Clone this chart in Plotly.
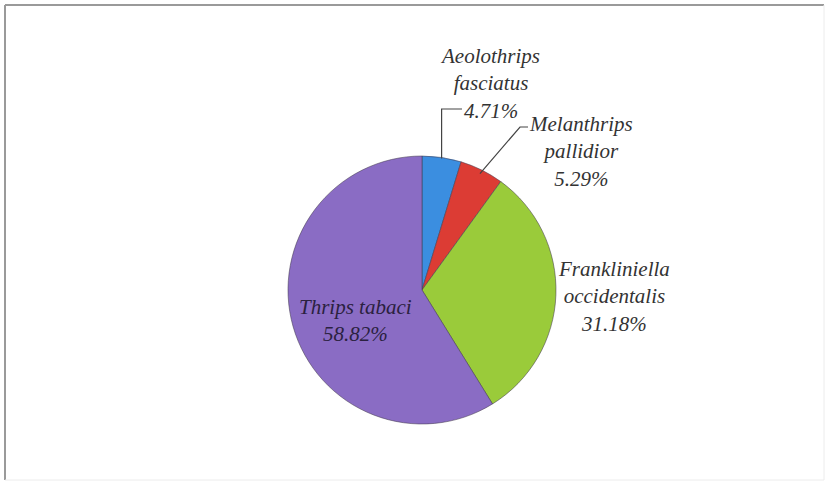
import math
import plotly.graph_objects as go

# Thrips species composition (%)
species = ["Aeolothrips<br>fasciatus", "Melanthrips<br>pallidior",
           "Frankliniella<br>occidentalis", "Thrips tabaci"]
shares = [4.71, 5.29, 31.18, 58.82]
colors = ["#3b8ee0", "#dc3c34", "#9acb3a", "#8a6cc4"]

W, H = 826, 482
CX, CY, R = 422, 290, 134  # pie centre and radius in pixels


def px(x, y):
    """pixel position -> paper coordinates"""
    return x / W, (H - y) / H


fig = go.Figure()
x0, _ = px(CX - R, 0)
x1, _ = px(CX + R, 0)
_, y0 = px(0, CY + R)
_, y1 = px(0, CY - R)
fig.add_trace(go.Pie(
    labels=species, values=shares, sort=False, direction="clockwise",
    rotation=0, textinfo="none", hoverinfo="label+percent",
    marker=dict(colors=colors, line=dict(color="rgba(70,60,80,0.55)", width=1)),
    domain=dict(x=[x0, x1], y=[y0, y1]), showlegend=False,
))


def mid_point(i, r=R):
    start = sum(shares[:i])
    ang = math.radians((start + shares[i] / 2) / sum(shares) * 360)
    return CX + r * math.sin(ang), CY - r * math.cos(ang)


SERIF = "Liberation Serif"
text_for = [f"{s}<br>{v:.2f}%" for s, v in zip(species, shares)]

# label anchor positions (pixels)
label_pos = [(490, 83), (581, 151), (614, 296), (355, 320)]
for i, (lx, ly) in enumerate(label_pos):
    ax, ay = px(lx, ly)
    fig.add_annotation(x=ax, y=ay, xref="paper", yref="paper", text=text_for[i],
                       showarrow=False, align="center", xanchor="center",
                       yanchor="middle",
                       font=dict(family=SERIF, size=21, style="italic",
                                 color="#2b2140" if i == 3 else "#333333"))

# leader lines for the two narrow slices
bx, by = mid_point(0, R - 1)
red_x, red_y = mid_point(1, R - 4)
leaders = [
    [(bx, by), (bx, 109), (462, 109)],
    [(red_x, red_y), (520, 127), (528, 127)],
]
for pts in leaders:
    path = "M " + " L ".join(f"{px(x, y)[0]:.5f},{px(x, y)[1]:.5f}" for x, y in pts)
    fig.add_shape(type="path", path=path, xref="paper", yref="paper",
                  line=dict(color="#444444", width=1.2))

# frame around the chart area
fx0, fy0 = px(5, 5)
fx1, fy1 = px(824, 480)
fig.add_shape(type="line", x0=fx0, y0=fy1, x1=fx0, y1=fy0, xref="paper", yref="paper",
              line=dict(color="#9a9a9a", width=2))
fig.add_shape(type="line", x0=fx0, y0=fy0, x1=fx1, y1=fy0, xref="paper", yref="paper",
              line=dict(color="#9a9a9a", width=2))
fig.add_shape(type="line", x0=fx1, y0=fy0, x1=fx1, y1=fy1, xref="paper", yref="paper",
              line=dict(color="#ececec", width=1))
fig.add_shape(type="line", x0=fx0, y0=fy1, x1=fx1, y1=fy1, xref="paper", yref="paper",
              line=dict(color="#ececec", width=1))

fig.update_layout(width=W, height=H, margin=dict(l=0, r=0, t=0, b=0),
                  paper_bgcolor="white", plot_bgcolor="white")
fig.write_html("out.html")
